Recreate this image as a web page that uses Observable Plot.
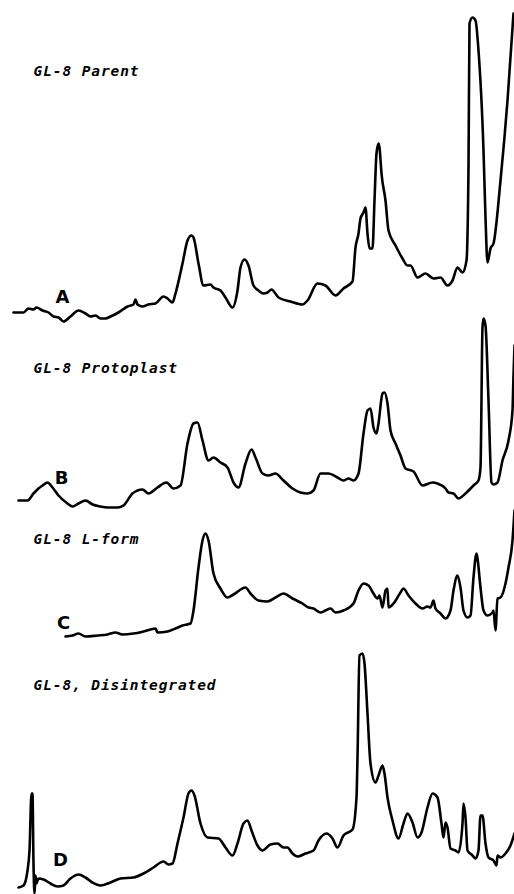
<!DOCTYPE html>
<html>
<head>
<meta charset="utf-8">
<script src="https://cdn.jsdelivr.net/npm/d3@7"></script>
<script src="https://cdn.jsdelivr.net/npm/@observablehq/plot@0.6"></script>
<style>
  html, body { margin: 0; padding: 0; background: #fff; }
  #chart svg { display: block; background: #fff; }
</style>
</head>
<body>
<div id="chart"></div>
<script>
// Densitometer traces (relative absorbance above each trace's baseline vs. migration distance)
const traceNames = ["A", "B", "C", "D"];
const traceTitles = ["GL-8 Parent", "GL-8 Protoplast", "GL-8 L-form", "GL-8, Disintegrated"];

const xA = [13,23,28,33,36,42,48,53,58,63,70,78,85,90,95,100,105,110,118,127,133,135,137,142,148,155,163,167,172,175,182,187,191,193,198,203,210,213,220,225,232,237,240,244,248,253,258,263,267,271,278,290,302,307,317,325,335,343,352,355,358,360,363,365,367,369,372,374,376,378,379,381,385,388,395,402,407,410,417,425,433,440,447,452,457,462,466,468,469,472,475,478,483,485,487,490,493,500,507,513];
const vA = [8,8,12,11,13,10,8,4,3,-1,4,10,7,4,5,2,2,4,8,14,16,21,16,14,16,17,24,22,18,27,57,80,85,83,57,35,36,33,30,23,13,30,53,61,55,35,30,27,28,31,23,19,16,20,37,35,25,32,39,73,87,102,108,113,87,72,72,120,167,177,173,147,120,90,75,62,55,55,43,47,42,43,35,40,53,48,60,153,297,303,300,270,170,103,58,72,77,140,220,307];

const xB = [18,27,33,38,42,47,52,58,67,72,78,85,92,100,107,117,123,132,142,148,157,166,173,180,187,193,197,202,208,213,220,227,233,238,245,251,255,262,268,275,282,292,300,307,313,320,328,337,343,348,353,358,363,367,370,373,376,378,382,384,387,390,395,400,405,413,422,432,437,445,448,453,458,465,473,478,480,482,483,485,488,491,493,497,502,508,512,513,514];
const vB = [5,5,12,17,20,23,18,10,2,-1,2,5,1,-1,-2,-2,0,12,16,12,18,23,17,20,62,82,83,65,45,48,43,38,23,18,42,56,48,32,30,32,26,17,13,12,15,32,32,28,25,27,25,32,72,95,97,78,72,82,112,113,102,75,62,50,37,34,20,23,22,17,13,12,7,12,20,25,38,178,187,180,105,23,21,23,45,65,95,130,160];

const xC = [65,72,78,85,97,107,115,122,133,143,155,157,167,175,182,190,193,198,202,205,208,213,220,227,233,245,250,258,267,275,283,292,302,308,313,320,325,330,335,343,353,358,363,368,373,377,379,382,385,387,388,393,400,403,408,415,422,427,430,433,435,440,445,450,453,457,460,463,467,470,473,476,477,480,483,487,492,493,495,497,500,505,508,512,514];
const vC = [0,1,3,0,1,2,4,2,3,5,8,4,5,8,11,13,26,69,96,103,96,63,48,39,42,49,43,36,35,39,43,38,33,29,28,24,26,28,24,26,33,46,53,51,43,38,41,29,46,48,29,33,44,48,41,33,28,30,29,36,28,23,18,26,46,61,49,26,19,21,59,83,78,49,26,21,24,26,6,38,39,53,69,96,126];

const xD = [18,23,27,29,31,32,33,34,35,36,38,43,50,57,63,70,78,85,92,100,110,120,133,143,153,163,168,172,177,183,188,191,194,200,207,218,225,232,237,243,247,251,257,262,270,277,283,287,292,297,305,313,318,326,332,337,343,352,356,357,359,362,364,367,370,375,378,382,384,387,392,398,403,407,412,417,421,427,432,437,441,443,445,447,450,455,458,462,463,465,467,472,475,478,480,482,485,488,493,496,497,500,505,510,514];
const vD = [0,2,17,37,94,94,24,-6,12,4,9,8,4,1,2,9,13,10,5,2,5,9,10,14,20,26,23,24,44,70,94,97,92,64,50,49,40,32,44,64,67,57,42,37,43,44,40,40,34,31,34,37,47,54,49,40,52,58,90,130,232,234,224,174,124,105,112,122,114,90,67,49,64,74,65,50,55,80,94,90,64,50,65,60,39,37,35,64,84,70,37,32,29,37,72,72,44,30,27,22,32,30,34,42,54];

// layout (vertical offset of each trace's baseline, in chart units)
const offsets = {A: 574, B: 389, C: 258, D: 7};
const series = {A: [xA, vA], B: [xB, vB], C: [xC, vC], D: [xD, vD]};

const rows = traceNames.flatMap(k => series[k][0].map((x, i) => ({trace: k, x, y: offsets[k] + series[k][1][i]})));

const titles = traceTitles.map((t, i) => ({text: t, x: 33, y: [819, 522, 351, 205][i]}));
const letters = traceNames.map((t, i) => ({text: t, x: [62, 61, 63, 60][i], y: [592, 411, 266, 29][i]}));

const chart = Plot.plot({
  width: 514,
  height: 894,
  margin: 0,
  x: {domain: [0, 514], axis: null},
  y: {domain: [0, 894], axis: null},
  marks: [
    Plot.line(rows, {x: "x", y: "y", z: "trace", stroke: "#000", strokeWidth: 2.6, curve: "monotone-x", strokeLinejoin: "round", strokeLinecap: "round"}),
    Plot.text(titles, {x: "x", y: "y", text: "text", textAnchor: "start", lineAnchor: "bottom", fontSize: 14.5, fontWeight: "bold", fontStyle: "italic", fontFamily: "DejaVu Sans Mono", fill: "#000"}),
    Plot.text(letters, {x: "x", y: "y", text: "text", textAnchor: "middle", lineAnchor: "bottom", fontSize: 18, fontWeight: "bold", fontFamily: "DejaVu Sans", fill: "#000"})
  ]
});
const textGroups = chart.querySelectorAll('g[aria-label="text"]');
if (textGroups.length) d3.select(textGroups[0]).selectAll("text").attr("letter-spacing", "0.9");
document.getElementById("chart").appendChild(chart);
</script>
</body>
</html>
